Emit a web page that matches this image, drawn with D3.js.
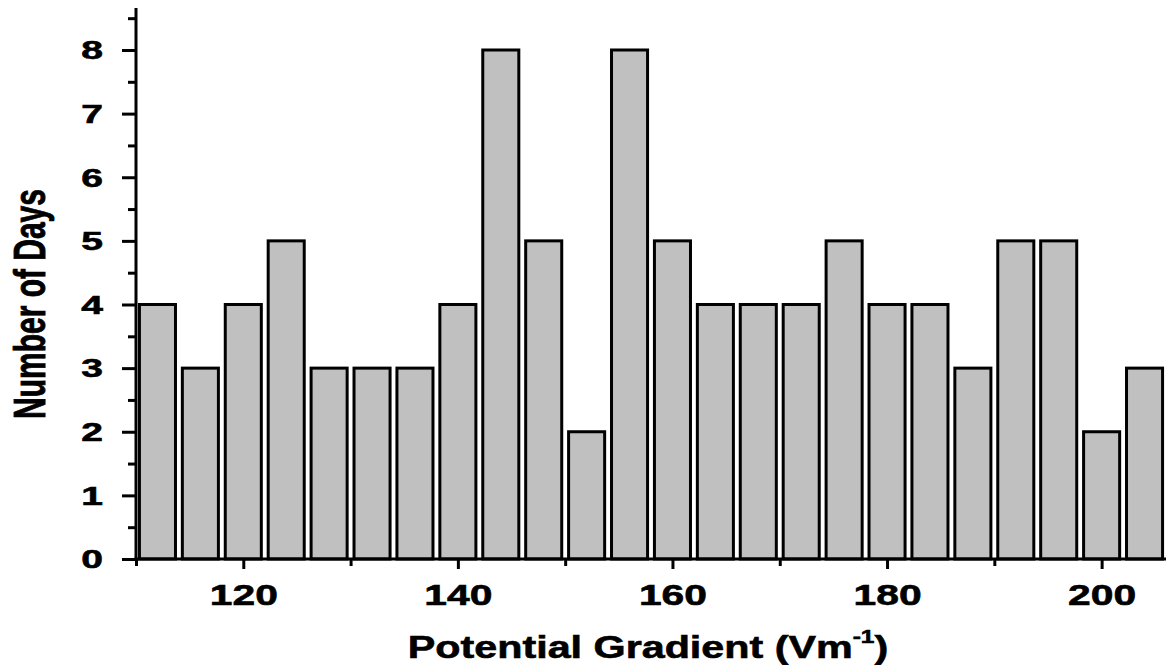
<!DOCTYPE html>
<html>
<head>
<meta charset="utf-8">
<script src="https://cdn.jsdelivr.net/npm/d3@7"></script>
<style>
  html, body { margin: 0; padding: 0; background: #fff; }
  svg { display: block; }
  text { font-family: "Liberation Sans", Arial, sans-serif; font-weight: bold; fill: #000; stroke: #000; stroke-width: 0.6px; }
</style>
</head>
<body>
<svg id="chart" width="1170" height="665"></svg>
<script>
// Histogram of daily fair-weather potential gradient (4 V/m bins)
const binCenters = [112, 116, 120, 124, 128, 132, 136, 140, 144, 148, 152, 156,
                    160, 164, 168, 172, 176, 180, 184, 188, 192, 196, 200, 204];
const dayCounts  = [4, 3, 4, 5, 3, 3, 3, 4, 8, 5, 2, 8,
                    5, 4, 4, 4, 5, 4, 4, 3, 5, 5, 2, 3];
const binWidth = 4;
const xMajorTicks = [120, 140, 160, 180, 200];
const xMinorTicks = [110, 130, 150, 170, 190];
const yMajorTicks = [0, 1, 2, 3, 4, 5, 6, 7, 8];
const yMinorTicks = [0.5, 1.5, 2.5, 3.5, 4.5, 5.5, 6.5, 7.5, 8.5];
const xTitle = "Potential Gradient (Vm";
const xTitleSup = "-1";
const yTitle = "Number of Days";

const svg = d3.select("#chart");
const plotLeft = 136, plotRight = 1166, plotTop = 8, plotBottom = 559;

const x = d3.scaleLinear().domain([110, 206]).range([plotLeft, plotRight]);
const y = d3.scaleLinear().domain([0, 8.66]).range([plotBottom, plotTop]);

// bars
const barFrac = 0.84;
svg.append("g")
  .selectAll("rect")
  .data(binCenters.map((c, i) => ({ c, v: dayCounts[i] })))
  .join("rect")
  .attr("x", d => x(d.c - binWidth * barFrac / 2))
  .attr("width", d => x(d.c + binWidth * barFrac / 2) - x(d.c - binWidth * barFrac / 2))
  .attr("y", d => y(d.v))
  .attr("height", d => y(0) - y(d.v))
  .attr("fill", "#c0c0c0")
  .attr("stroke", "#000")
  .attr("stroke-width", 3);

// x axis
const xAxisG = svg.append("g").attr("transform", `translate(0,${plotBottom})`);
xAxisG.call(d3.axisBottom(x).tickValues(xMajorTicks).tickSize(10).tickSizeOuter(0).tickFormat(d3.format("d")));
xAxisG.append("g").call(d3.axisBottom(x).tickValues(xMinorTicks).tickSize(7).tickSizeOuter(0).tickFormat(""))
  .select(".domain").remove();
xAxisG.selectAll(".domain").attr("stroke-width", 3).attr("d", `M${plotLeft - 1.5},0H${plotRight}`);
xAxisG.selectAll(".tick line").attr("stroke-width", 3);
xAxisG.selectAll(".tick text")
  .attr("font-size", 30)
  .attr("y", 46).attr("dy", 0)
  .attr("transform", "scale(1.36,1)");

// y axis
const yAxisG = svg.append("g").attr("transform", `translate(${plotLeft},0)`);
yAxisG.call(d3.axisLeft(y).tickValues(yMajorTicks).tickSize(14).tickSizeOuter(0).tickFormat(d3.format("d")));
yAxisG.append("g").call(d3.axisLeft(y).tickValues(yMinorTicks).tickSize(8).tickSizeOuter(0).tickFormat(""))
  .select(".domain").remove();
yAxisG.selectAll(".domain").attr("stroke-width", 3).attr("d", `M0,${plotBottom + 1.5}V${plotTop}`);
yAxisG.selectAll(".tick line").attr("stroke-width", 3);
const ySx = 1.5;
yAxisG.selectAll(".tick text")
  .attr("font-size", 26)
  .attr("x", -33 / ySx)
  .attr("dy", "0.34em")
  .attr("transform", `scale(${ySx},1)`);

// axis titles
const xt = svg.append("text")
  .attr("transform", "translate(648,658) scale(1.29,1)")
  .attr("text-anchor", "middle")
  .attr("font-size", 32);
xt.append("tspan").text(xTitle);
xt.append("tspan").attr("font-size", 19).attr("dy", -15).text(xTitleSup);
xt.append("tspan").attr("dy", 15).text(")");

svg.append("text")
  .attr("transform", "translate(45,304) scale(1.46,1) rotate(-90)")
  .attr("text-anchor", "middle")
  .attr("font-size", 30)
  .text(yTitle);
</script>
</body>
</html>
